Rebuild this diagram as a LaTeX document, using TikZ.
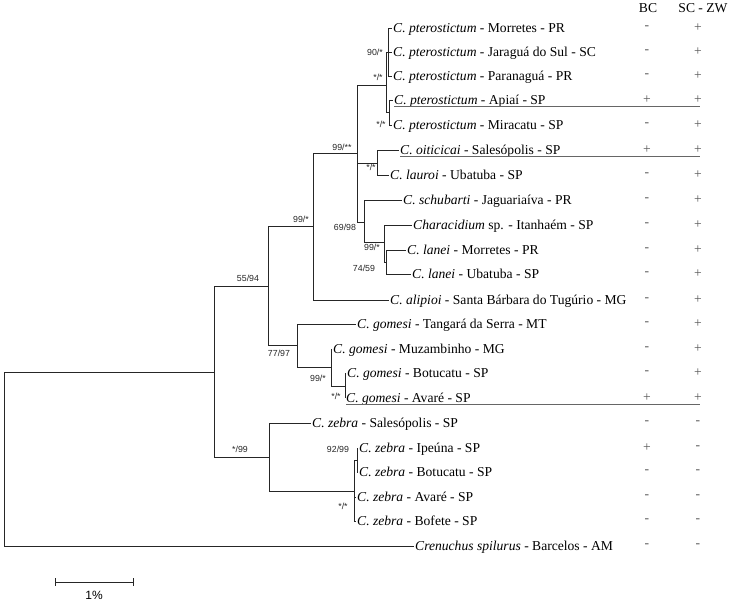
\documentclass[tikz,border=0pt]{standalone}
\usepackage{fontspec}
\setmainfont{Liberation Serif}
\setsansfont{Liberation Sans}
\tikzset{
  br/.style={line width=0.9pt, draw=black!85},
  tiptext/.style={anchor=base west, inner sep=0pt, font=\fontsize{13.6}{15}\selectfont},
  bs/.style={font=\sffamily\fontsize{8.8}{10}\selectfont, inner sep=0pt, text=black!85},
  colsym/.style={font=\fontsize{13.6}{15}\selectfont, text=black!65, inner sep=0pt},
  hdr/.style={font=\fontsize{13.6}{15}\selectfont, inner sep=0pt},
  uline/.style={line width=0.6pt, draw=black!60},
}
\newcommand\tip[4]{\coordinate (#1) at ({#2-1},#3); \node[tiptext] (#1t) at (#2,{#3+4.6}) {#4};}
\newcommand\cols[4]{\node[colsym] (#1bc) at (647,#2) {#3}; \node[colsym] (#1sz) at (698,#2) {#4};}
\begin{document}
\begin{tikzpicture}[x=1pt,y=-1pt]
\fill[white] (0,0) rectangle (730,603);
\useasboundingbox (0,0) rectangle (730,603);
\coordinate (colend) at (700,0);
% header
\node[hdr] (hbc) at (648,8) {BC};
\node[hdr] (hsz) at (703,8) {SC - ZW};
% tips
\tip{t1}{393}{28}{\textit{C. pterostictum} - Morretes - PR}
\tip{t2}{393}{52}{\textit{C. pterostictum} - Jaraguá do Sul - SC}
\tip{t3}{393}{76}{\textit{C. pterostictum} - Paranaguá - PR}
\tip{t4}{394}{100}{\textit{C. pterostictum} - Apiaí - SP}
\tip{t5}{393}{125}{\textit{C. pterostictum} - Miracatu - SP}
\tip{t6}{400}{150}{\textit{C. oiticicai} - Salesópolis - SP}
\tip{t7}{390}{175}{\textit{C. lauroi} - Ubatuba - SP}
\tip{t8}{403}{200}{\textit{C. schubarti} - Jaguariaíva - PR}
\tip{t9}{413}{225}{\textit{Characidium} sp. - Itanhaém - SP}
\tip{t10}{407}{250}{\textit{C. lanei} - Morretes - PR}
\tip{t11}{412}{274}{\textit{C. lanei} - Ubatuba - SP}
\tip{t12}{390}{300}{\textit{C. alipioi} - Santa Bárbara do Tugúrio - MG}
\tip{t13}{357}{324}{\textit{C. gomesi} - Tangará da Serra - MT}
\tip{t14}{333}{349}{\textit{C. gomesi} - Muzambinho - MG}
\tip{t15}{347}{373}{\textit{C. gomesi} - Botucatu - SP}
\tip{t16}{346}{398}{\textit{C. gomesi} - Avaré - SP}
\tip{t17}{312}{423}{\textit{C. zebra} - Salesópolis - SP}
\tip{t18}{359}{448}{\textit{C. zebra} - Ipeúna - SP}
\tip{t19}{359}{472}{\textit{C. zebra} - Botucatu - SP}
\tip{t20}{357}{497}{\textit{C. zebra} - Avaré - SP}
\tip{t21}{357}{521}{\textit{C. zebra} - Bofete - SP}
\tip{t22}{415}{546}{\textit{Crenuchus spilurus} - Barcelos - AM}
% columns
\cols{c1}{28}{-}{+}
\cols{c2}{52}{-}{+}
\cols{c3}{76}{-}{+}
\cols{c4}{100}{+}{+}
\cols{c5}{125}{-}{+}
\cols{c6}{150}{+}{+}
\cols{c7}{175}{-}{+}
\cols{c8}{200}{-}{+}
\cols{c9}{225}{-}{+}
\cols{c10}{250}{-}{+}
\cols{c11}{274}{-}{+}
\cols{c12}{300}{-}{+}
\cols{c13}{324}{-}{+}
\cols{c14}{349}{-}{+}
\cols{c15}{373}{-}{+}
\cols{c16}{398}{+}{+}
\cols{c17}{423}{-}{-}
\cols{c18}{448}{+}{-}
\cols{c19}{472}{-}{-}
\cols{c20}{497}{-}{-}
\cols{c21}{521}{-}{-}
\cols{c22}{546}{-}{-}
% underlines
\coordinate (u4) at ([yshift=-2pt]t4t.base west);
\coordinate (u6) at ([yshift=-2pt]t6t.base west);
\coordinate (u16) at ([yshift=-2pt]t16t.base west);
\draw[uline] (u4) -- (u4 -| colend);
\draw[uline] (u6) -- (u6 -| colend);
\draw[uline] (u16) -- (u16 -| colend);
% internal nodes
\coordinate (R) at (4,459);
\coordinate (A) at (214,372);
\coordinate (B) at (268,286);
\coordinate (D) at (269,457);
\coordinate (E) at (313,226);
\coordinate (C) at (297,345);
\coordinate (F) at (357,153);
\coordinate (G) at (364,222);
\coordinate (H) at (384,242);
\coordinate (I) at (386,262);
\coordinate (M) at (377,163);
\coordinate (J) at (386,85);
\coordinate (K) at (388,52);
\coordinate (L) at (389,112);
\coordinate (N) at (331,367);
\coordinate (O) at (345,386);
\coordinate (P) at (354,491);
\coordinate (Q) at (357,460);
% branches
\draw[br] (R) |- (A);
\draw[br] (R) |- (t22);
\draw[br] (A) |- (B);
\draw[br] (A) |- (D);
\draw[br] (B) |- (E);
\draw[br] (B) |- (C);
\draw[br] (E) |- (F);
\draw[br] (E) |- (t12);
\draw[br] (F) |- (J);
\draw[br] (F) |- (M);
\draw[br] (F) |- (G);
\draw[br] (J) |- (K);
\draw[br] (J) |- (L);
\draw[br] (K) |- (t1);
\draw[br] (K) |- (t2);
\draw[br] (K) |- (t3);
\draw[br] (L) |- (t4);
\draw[br] (L) |- (t5);
\draw[br] (M) |- (t6);
\draw[br] (M) |- (t7);
\draw[br] (G) |- (t8);
\draw[br] (G) |- (H);
\draw[br] (H) |- (t9);
\draw[br] (H) |- (I);
\draw[br] (I) |- (t10);
\draw[br] (I) |- (t11);
\draw[br] (C) |- (t13);
\draw[br] (C) |- (N);
\draw[br] (N) |- (t14);
\draw[br] (N) |- (O);
\draw[br] (O) |- (t15);
\draw[br] (O) |- (t16);
\draw[br] (D) |- (t17);
\draw[br] (D) |- (P);
\draw[br] (P) |- (Q);
\draw[br] (P) |- (t20);
\draw[br] (P) |- (t21);
\draw[br] (Q) |- (t18);
\draw[br] (Q) |- (t19);
% support labels
\node[bs] (l1) at (375,52) {90/*};
\node[bs] (l2) at (378,77) {*/*};
\node[bs] (l3) at (381,124) {*/*};
\node[bs] (l4) at (342,147) {99/**};
\node[bs] (l5) at (371,167) {*/*};
\node[bs] (l6) at (301,219) {99/*};
\node[bs] (l7) at (345,227) {69/98};
\node[bs] (l8) at (372,247) {99/*};
\node[bs] (l9) at (364,268) {74/59};
\node[bs] (l10) at (248,278) {55/94};
\node[bs] (l11) at (279,353) {77/97};
\node[bs] (l12) at (318,378) {99/*};
\node[bs] (l13) at (336,396) {*/*};
\node[bs] (l14) at (240,449) {*/99};
\node[bs] (l15) at (338,449) {92/99};
\node[bs] (l16) at (343,506) {*/*};
% scale bar
\coordinate (s1) at (55,582);
\coordinate (s2) at (133,582);
\draw[br] (s1) -- (s2);
\draw[br] ([yshift=4pt]s1) -- ([yshift=-4pt]s1);
\draw[br] ([yshift=4pt]s2) -- ([yshift=-4pt]s2);
\node[font=\sffamily\fontsize{12}{14}\selectfont, inner sep=0pt] (sl) at (94,595) {1\%};
\end{tikzpicture}
\end{document}
